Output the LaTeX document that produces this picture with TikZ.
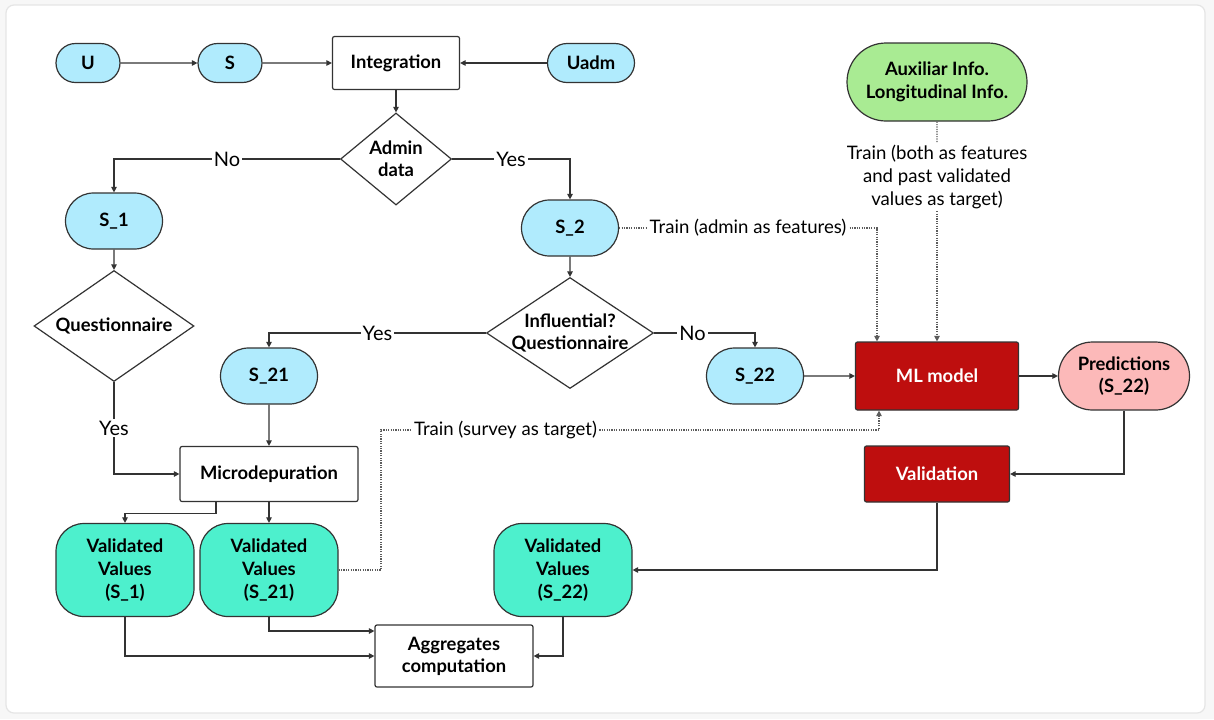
\documentclass[tikz,border=0pt]{standalone}
\usepackage{fontspec}
\setmainfont{Lato}
\usepackage{xcolor}
\definecolor{myblue}{RGB}{176,235,253}
\definecolor{mygreen}{RGB}{169,235,147}
\definecolor{myteal}{RGB}{77,240,205}
\definecolor{myred}{RGB}{190,14,14}
\definecolor{mypink}{RGB}{252,185,185}
\definecolor{myline}{RGB}{51,51,51}
\usepackage{tikz}
\usetikzlibrary{calc,shapes.geometric,shapes.misc,arrows.meta}

\begin{document}
\begin{tikzpicture}[x=0.5pt,y=-0.5pt,line width=0.6pt,draw=myline,>={Triangle[length=2.8pt,width=2.8pt]},font=\fontsize{9.3}{11.3}\selectfont]
	\tikzstyle{pill}=[rounded rectangle,draw=myline,fill=myblue,font=\bfseries\fontsize{9.2}{11}\selectfont,minimum height=28pt,minimum width=52.5pt,inner sep=2pt];
	\tikzstyle{box}=[rectangle,draw=myline,fill=white,rounded corners=1pt,font=\bfseries\fontsize{9.2}{11}\selectfont,align=center,inner sep=2pt];
	\tikzstyle{redbox}=[box,fill=myred,text=white];
	\tikzstyle{dec}=[diamond,draw=myline,fill=white,font=\bfseries\fontsize{9.2}{11}\selectfont,align=center,aspect=1.5,inner sep=-5pt];
	\tikzstyle{vv}=[rectangle,draw=myline,fill=myteal,rounded corners=14pt,minimum width=69pt,minimum height=46.5pt,font=\bfseries\fontsize{9.2}{11.5}\selectfont,align=center];
	\tikzstyle{lbl}=[fill=white,inner sep=1pt,font=\fontsize{10}{12}\selectfont];
	\tikzstyle{dot}=[draw=myline!80,dash pattern=on 0.6pt off 0.6pt];
	\fill[black!3] (0,0) rectangle (1214,719);
	\draw[black!10,fill=white,rounded corners=4pt] (6,5) rectangle (1205,713);
	\useasboundingbox (0,0) rectangle (1214,719);
	\node[pill,minimum height=19.5pt,minimum width=36pt] (u) at (88,63) {U};
	\node[pill,minimum height=19.5pt,minimum width=36pt] (s) at (230,63) {S};
	\node[box,minimum width=63.5pt,minimum height=26.5pt] (int) at (396,63) {Integration};
	\node[pill,minimum height=19.5pt,minimum width=47.5pt] (uadm) at (591,63) {Uadm};
	\node[dec,minimum width=55.5pt,minimum height=46pt] (adm) at (396,159) {Admin\\data};
	\node[pill] (s1) at (114,221) {S\_1};
	\node[pill] (s2) at (570,228) {S\_2};
	\node[dec,minimum width=80pt,minimum height=55.5pt] (q1) at (114,326) {Questionnaire};
	\node[dec,minimum width=83.5pt,minimum height=55.5pt] (q2) at (570,333) {Influential?\\Questionnaire};
	\node[pill] (s21) at (269,376) {S\_21};
	\node[pill] (s22) at (755,376) {S\_22};
	\node[redbox,minimum width=81.5pt,minimum height=34pt] (ml) at (937,376) {ML model};
	\node[pill,fill=mypink,minimum width=69.5pt,minimum height=34pt,align=center] (pred) at (1124,376) {Predictions\\(S\_22)};
	\node[pill,fill=mygreen,minimum width=94pt,minimum height=39pt,align=center,font=\bfseries\fontsize{9.2}{11.5}\selectfont] (aux) at (937,82) {Auxiliar Info.\\Longitudinal Info.};
	\node[align=center,inner sep=1pt,font=\fontsize{9.3}{11.3}\selectfont] (trn) at (937,177) {Train (both as features\\and past validated\\values as target)};
	\node[box,minimum width=89pt,minimum height=27.5pt] (mic) at (269,474) {Microdepuration};
	\node[redbox,minimum width=72.5pt,minimum height=28pt] (val) at (937,474) {Validation};
	\node[vv] (vva) at (125,570) {Validated\\Values\\(S\_1)};
	\node[vv] (vvb) at (269,570) {Validated\\Values\\(S\_21)};
	\node[vv] (vvc) at (563,570) {Validated\\Values\\(S\_22)};
	\node[box,minimum width=79pt,minimum height=31pt] (agg) at (454,656) {Aggregates\\computation};
	\coordinate (sv) at (381,430);
	\draw[->] (u) -- (s);
	\draw[->] (s) -- (int);
	\draw[->] (uadm) -- (int);
	\draw[->] (int) -- (adm);
	\draw[->] (adm.west) -| node[lbl,pos=0.25]{No} (s1.north);
	\draw[->] (adm.east) -| node[lbl,pos=0.25]{Yes} (s2.north);
	\draw[->] (s1) -- (q1);
	\draw[->] (s2) -- (q2);
	\draw[->] (q1.south) |- node[lbl,pos=0.25]{Yes} (mic.west);
	\draw[->] (q2.west) -| node[lbl,pos=0.25]{Yes} (s21.north);
	\draw[->] (q2.east) -| node[lbl,pos=0.19]{No} (s22.north);
	\draw[->] (s21) -- (mic);
	\draw[->] (s22) -- (ml);
	\draw[->] (ml) -- (pred);
	\draw[->] (mic) -- (vvb);
	\draw[->] ([xshift=-26.5pt]mic.south) -- ++(0,11) -| (vva.north);
	\draw[->] (pred.south) |- (val.east);
	\draw[->] (val.south) |- (vvc.east);
	\draw[->] (vva.south) |- (agg.west);
	\draw[->] (vvb.south) |- ([yshift=12.5pt]agg.west);
	\draw[->] (vvc.south) |- (agg.east);
	\draw[dot,->] (s2.east) -| node[pos=0.25,fill=white,inner sep=1pt]{Train (admin as features)} ([xshift=-30pt]ml.north);
	\draw[dot] (aux) -- (trn);
	\draw[dot,->] (trn) -- (ml);
	\draw[dot,->] (vvb.east) -| (sv) -- node[pos=0.25,fill=white,inner sep=1pt]{Train (survey as target)} (sv -| {$(ml.south)+(-58,0)$}) -- ([xshift=-29pt]ml.south);
\end{tikzpicture}
\end{document}
